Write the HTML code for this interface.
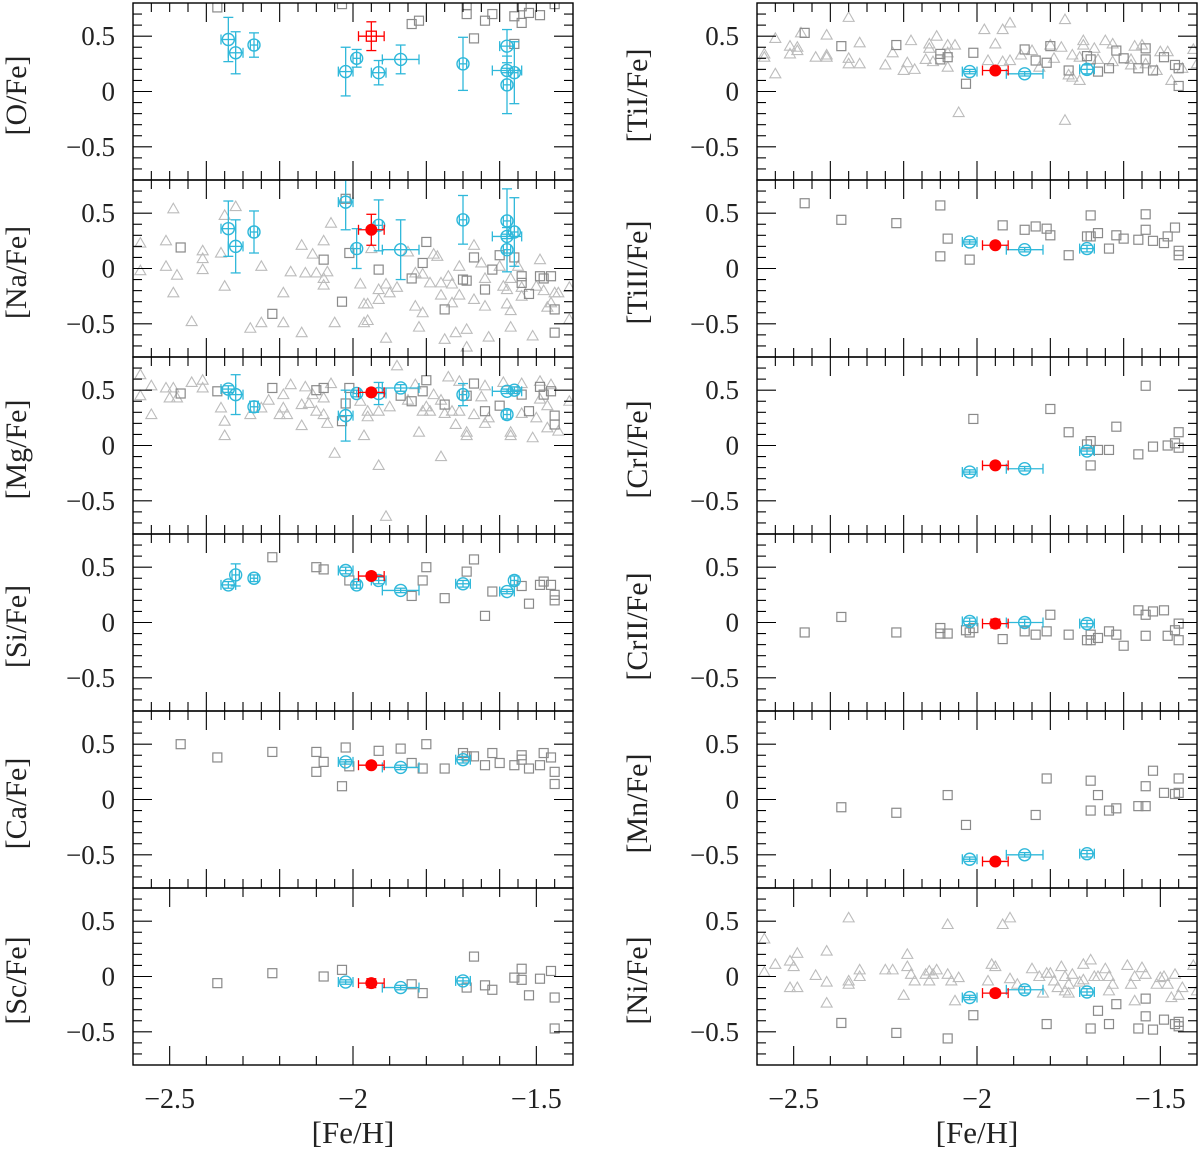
<!DOCTYPE html>
<html><head><meta charset="utf-8"><style>
html,body{margin:0;padding:0;background:#fff;}
svg{display:block;}
text{font-family:"Liberation Serif",serif;fill:#222;}
</style></head>
<body>
<svg id="chart" width="1200" height="1150" viewBox="0 0 1200 1150" xmlns="http://www.w3.org/2000/svg"></svg>
<script>
// ---- data: [Fe/H], [X/Fe] ----
const O_tri = [];
const O_sq = [[-2.37,0.76],[-2.03,0.79],[-1.84,0.61],[-1.82,0.64],[-1.69,0.78],[-1.69,0.70],[-1.64,0.64],[-1.62,0.70],[-1.67,0.48],[-1.56,0.43],[-1.54,0.77],[-1.54,0.62],[-1.52,0.71],[-1.49,0.69],[-1.56,0.68],[-1.45,0.79]];
const O_cyan = [[-2.34,0.47,0.02,0.20],[-2.32,0.35,0.02,0.19],[-2.27,0.42,0.01,0.11],[-2.02,0.18,0.02,0.22],[-1.99,0.30,0.01,0.08],[-1.93,0.17,0.02,0.11],[-1.87,0.29,0.05,0.13],[-1.70,0.25,0.01,0.24],[-1.58,0.41,0.02,0.15],[-1.58,0.19,0.04,0.02],[-1.56,0.17,0.01,0.28],[-1.58,0.06,0.01,0.26]];
const O_red = [-1.95,0.50,0.035,0.13];

const Na_tri = [[-2.49,0.54],[-2.58,0.23],[-2.51,0.25],[-2.51,0.02],[-2.58,-0.02],[-2.48,-0.06],[-2.49,-0.22],[-2.41,0.16],[-2.41,0.09],[-2.41,-0.01],[-2.44,-0.48],[-2.35,0.48],[-2.32,0.56],[-2.36,0.14],[-2.35,-0.16],[-2.25,0.02],[-2.28,-0.54],[-2.25,-0.49],[-2.19,-0.22],[-2.19,-0.49],[-2.14,-0.58],[-2.17,-0.03],[-2.14,0.21],[-2.13,-0.04],[-2.11,0.13],[-2.10,-0.04],[-2.08,0.25],[-2.08,-0.09],[-2.08,-0.15],[-2.07,-0.03],[-2.06,0.41],[-2.05,-0.49],[-1.98,-0.14],[-1.97,-0.32],[-1.96,-0.32],[-1.97,-0.49],[-1.96,-0.47],[-1.95,0.18],[-1.93,-0.19],[-1.93,-0.28],[-1.91,-0.14],[-1.90,-0.22],[-1.91,-0.63],[-1.88,-0.17],[-1.85,0.15],[-1.83,-0.04],[-1.83,-0.34],[-1.81,-0.40],[-1.81,-0.05],[-1.82,-0.53],[-1.79,-0.13],[-1.78,0.13],[-1.77,0.11],[-1.76,-0.13],[-1.76,-0.24],[-1.75,-0.64],[-1.74,-0.07],[-1.73,-0.14],[-1.73,-0.31],[-1.72,-0.58],[-1.71,0.02],[-1.71,-0.24],[-1.69,-0.55],[-1.69,-0.71],[-1.67,0.21],[-1.65,0.05],[-1.67,-0.28],[-1.64,-0.09],[-1.64,-0.34],[-1.63,-0.62],[-1.60,0.02],[-1.59,-0.16],[-1.58,-0.19],[-1.58,-0.32],[-1.57,-0.09],[-1.57,-0.53],[-1.57,-0.38],[-1.55,0.02],[-1.54,-0.17],[-1.54,-0.25],[-1.51,-0.61],[-1.49,0.08],[-1.50,-0.16],[-1.48,-0.20],[-1.47,-0.35],[-1.46,-0.31],[-1.45,-0.22],[-1.44,-0.22],[-1.41,-0.17],[-1.41,-0.46]];
const Na_sq = [[-2.47,0.19],[-2.22,-0.41],[-2.08,0.08],[-2.03,-0.30],[-2.01,0.14],[-1.93,-0.01],[-1.84,-0.09],[-1.81,0.05],[-1.80,0.24],[-1.75,-0.37],[-1.70,-0.10],[-1.69,-0.11],[-1.67,0.10],[-1.64,-0.19],[-1.62,-0.01],[-1.60,0.12],[-1.56,0.10],[-1.54,-0.07],[-1.54,-0.13],[-1.52,-0.23],[-1.49,-0.07],[-1.48,-0.09],[-1.46,-0.07],[-1.45,-0.37],[-1.45,-0.58],[-2.02,0.63]];
const Na_cyan = [[-2.02,0.60,0.02,0.25],[-2.34,0.36,0.02,0.25],[-2.32,0.20,0.02,0.24],[-2.27,0.33,0.01,0.19],[-1.99,0.18,0.01,0.18],[-1.93,0.39,0.01,0.23],[-1.87,0.17,0.05,0.27],[-1.70,0.44,0.01,0.22],[-1.58,0.43,0.01,0.29],[-1.58,0.29,0.04,0.02],[-1.56,0.33,0.01,0.31],[-1.58,0.17,0.01,0.20]];
const Na_red = [-1.95,0.35,0.035,0.14];

const Mg_tri = [[-2.58,0.64],[-2.55,0.54],[-2.58,0.45],[-2.55,0.28],[-2.51,0.52],[-2.50,0.43],[-2.49,0.52],[-2.48,0.43],[-2.44,0.57],[-2.41,0.59],[-2.41,0.52],[-2.36,0.34],[-2.35,0.22],[-2.35,0.09],[-2.25,0.34],[-2.28,0.28],[-2.23,0.41],[-2.20,0.28],[-2.18,0.28],[-2.19,0.46],[-2.19,0.34],[-2.17,0.55],[-2.14,0.37],[-2.14,0.18],[-2.13,0.53],[-2.12,0.38],[-2.11,0.46],[-2.10,0.31],[-2.08,0.43],[-2.08,0.28],[-2.07,0.20],[-2.06,0.56],[-2.05,-0.07],[-1.98,0.40],[-1.97,0.09],[-1.96,0.31],[-1.96,0.26],[-1.93,0.31],[-1.93,-0.18],[-1.90,0.35],[-1.91,-0.64],[-1.88,0.72],[-1.85,0.41],[-1.83,0.55],[-1.82,0.12],[-1.81,0.31],[-1.79,0.31],[-1.80,0.35],[-1.78,0.46],[-1.76,-0.10],[-1.76,0.41],[-1.75,0.29],[-1.74,0.62],[-1.73,0.31],[-1.72,0.19],[-1.71,0.58],[-1.71,0.31],[-1.69,0.12],[-1.69,0.09],[-1.67,0.28],[-1.65,0.44],[-1.64,0.54],[-1.63,0.25],[-1.64,0.20],[-1.59,0.57],[-1.57,0.12],[-1.57,0.09],[-1.54,0.56],[-1.54,0.29],[-1.51,0.07],[-1.50,0.25],[-1.49,0.58],[-1.49,0.42],[-1.47,0.36],[-1.47,0.16],[-1.46,0.55],[-1.44,0.13],[-1.41,0.40]];
const Mg_sq = [[-2.47,0.47],[-2.37,0.49],[-2.22,0.52],[-2.10,0.50],[-2.08,0.52],[-2.03,0.22],[-2.02,0.38],[-2.01,0.52],[-1.87,0.45],[-1.84,0.40],[-1.81,0.49],[-1.80,0.59],[-1.75,0.37],[-1.69,0.45],[-1.67,0.56],[-1.64,0.31],[-1.60,0.36],[-1.54,0.46],[-1.52,0.31],[-1.49,0.53],[-1.48,0.46],[-1.46,0.49],[-1.45,0.27],[-1.45,0.19]];
const Mg_cyan = [[-2.34,0.51,0.02,0.03],[-2.32,0.46,0.02,0.18],[-2.27,0.35,0.01,0.05],[-2.02,0.27,0.02,0.23],[-1.99,0.47,0.01,0.03],[-1.93,0.47,0.02,0.10],[-1.87,0.52,0.05,0.03],[-1.70,0.46,0.01,0.10],[-1.58,0.49,0.04,0.02],[-1.56,0.50,0.01,0.03],[-1.58,0.28,0.01,0.04]];
const Mg_red = [-1.95,0.48,0.035,0.03];

const Si_tri = [];
const Si_sq = [[-2.22,0.59],[-2.10,0.50],[-2.08,0.48],[-2.01,0.38],[-1.84,0.24],[-1.81,0.38],[-1.80,0.50],[-1.75,0.22],[-1.69,0.46],[-1.67,0.57],[-1.64,0.06],[-1.62,0.28],[-1.54,0.33],[-1.52,0.17],[-1.49,0.34],[-1.48,0.37],[-1.46,0.34],[-1.45,0.25],[-1.45,0.20]];
const Si_cyan = [[-2.34,0.34,0.02,0.03],[-2.32,0.43,0.01,0.10],[-2.27,0.40,0.01,0.03],[-2.02,0.47,0.02,0.03],[-1.99,0.34,0.01,0.03],[-1.93,0.38,0.02,0.03],[-1.87,0.29,0.05,0.02],[-1.70,0.35,0.02,0.03],[-1.56,0.38,0.01,0.04],[-1.58,0.28,0.02,0.02]];
const Si_red = [-1.95,0.42,0.035,0.03];

const Ca_tri = [];
const Ca_sq = [[-2.47,0.50],[-2.37,0.38],[-2.22,0.43],[-2.10,0.43],[-2.08,0.34],[-2.10,0.25],[-2.02,0.47],[-2.01,0.30],[-2.03,0.12],[-1.93,0.44],[-1.87,0.46],[-1.84,0.33],[-1.81,0.28],[-1.80,0.50],[-1.75,0.28],[-1.70,0.42],[-1.69,0.39],[-1.67,0.39],[-1.64,0.31],[-1.62,0.42],[-1.60,0.33],[-1.56,0.31],[-1.54,0.40],[-1.54,0.36],[-1.52,0.28],[-1.49,0.31],[-1.48,0.42],[-1.46,0.38],[-1.45,0.25],[-1.45,0.14]];
const Ca_cyan = [[-2.02,0.34,0.02,0.02],[-1.87,0.29,0.05,0.02],[-1.70,0.36,0.02,0.03]];
const Ca_red = [-1.95,0.31,0.035,0.02];

const Sc_tri = [];
const Sc_sq = [[-2.37,-0.06],[-2.22,0.03],[-2.08,0.00],[-2.03,0.06],[-1.84,-0.07],[-1.81,-0.15],[-1.69,-0.10],[-1.67,0.18],[-1.64,-0.08],[-1.62,-0.12],[-1.56,-0.01],[-1.54,0.07],[-1.54,-0.03],[-1.52,-0.17],[-1.49,-0.02],[-1.46,0.05],[-1.45,-0.19],[-1.45,-0.47]];
const Sc_cyan = [[-2.02,-0.05,0.02,0.02],[-1.87,-0.10,0.05,0.02],[-1.70,-0.04,0.02,0.03]];
const Sc_red = [-1.95,-0.06,0.035,0.04];

const TiI_tri = [[-2.58,0.34],[-2.58,0.31],[-2.55,0.48],[-2.55,0.16],[-2.51,0.41],[-2.51,0.34],[-2.49,0.40],[-2.49,0.37],[-2.48,0.53],[-2.44,0.31],[-2.41,0.51],[-2.41,0.33],[-2.41,0.31],[-2.35,0.67],[-2.35,0.30],[-2.35,0.25],[-2.32,0.44],[-2.32,0.25],[-2.25,0.24],[-2.23,0.35],[-2.20,0.19],[-2.19,0.26],[-2.17,0.20],[-2.18,0.46],[-2.14,0.29],[-2.13,0.43],[-2.13,0.39],[-2.11,0.50],[-2.12,0.27],[-2.08,0.42],[-2.08,0.35],[-2.08,0.22],[-2.06,0.42],[-2.05,-0.19],[-1.98,0.56],[-1.93,0.56],[-1.91,0.62],[-1.95,0.43],[-1.97,0.28],[-1.93,0.27],[-1.91,0.28],[-1.88,0.33],[-1.85,0.37],[-1.83,0.22],[-1.80,0.42],[-1.77,0.40],[-1.79,0.30],[-1.76,0.65],[-1.76,-0.26],[-1.74,0.33],[-1.72,0.31],[-1.75,0.15],[-1.72,0.10],[-1.74,0.13],[-1.71,0.46],[-1.71,0.42],[-1.68,0.39],[-1.67,0.29],[-1.65,0.46],[-1.63,0.43],[-1.63,0.27],[-1.58,0.29],[-1.57,0.41],[-1.58,0.24],[-1.55,0.42],[-1.54,0.25],[-1.51,0.19],[-1.50,0.36],[-1.48,0.36],[-1.47,0.10],[-1.44,0.21],[-1.41,0.38],[-1.40,0.25]];
const TiI_sq = [[-2.47,0.53],[-2.37,0.41],[-2.22,0.42],[-2.10,0.34],[-2.10,0.29],[-2.08,0.31],[-2.03,0.07],[-2.01,0.35],[-1.87,0.38],[-1.84,0.28],[-1.81,0.26],[-1.80,0.41],[-1.75,0.19],[-1.70,0.32],[-1.69,0.29],[-1.67,0.18],[-1.64,0.21],[-1.62,0.37],[-1.60,0.30],[-1.56,0.21],[-1.54,0.39],[-1.54,0.29],[-1.52,0.19],[-1.49,0.31],[-1.46,0.24],[-1.45,0.21],[-1.45,0.05]];
const TiI_cyan = [[-2.02,0.18,0.02,0.02],[-1.87,0.16,0.05,0.02],[-1.70,0.20,0.02,0.04]];
const TiI_red = [-1.95,0.19,0.035,0.02];

const TiII_tri = [];
const TiII_sq = [[-2.47,0.59],[-2.37,0.44],[-2.22,0.41],[-2.10,0.57],[-2.08,0.27],[-2.10,0.11],[-2.02,0.08],[-1.93,0.39],[-1.87,0.35],[-1.84,0.38],[-1.81,0.36],[-1.80,0.30],[-1.75,0.12],[-1.70,0.29],[-1.69,0.29],[-1.69,0.48],[-1.67,0.32],[-1.64,0.18],[-1.62,0.30],[-1.60,0.27],[-1.56,0.26],[-1.54,0.49],[-1.54,0.35],[-1.52,0.25],[-1.49,0.23],[-1.48,0.29],[-1.46,0.37],[-1.45,0.16],[-1.45,0.12]];
const TiII_cyan = [[-2.02,0.24,0.02,0.02],[-1.87,0.17,0.05,0.02],[-1.70,0.18,0.02,0.03]];
const TiII_red = [-1.95,0.21,0.035,0.02];

const CrI_tri = [];
const CrI_sq = [[-2.01,0.24],[-1.80,0.33],[-1.75,0.12],[-1.70,0.01],[-1.69,0.04],[-1.67,-0.04],[-1.64,-0.04],[-1.69,-0.18],[-1.62,0.17],[-1.56,-0.08],[-1.54,0.54],[-1.52,-0.01],[-1.48,0.00],[-1.46,0.02],[-1.45,0.12],[-1.45,-0.02]];
const CrI_cyan = [[-2.02,-0.24,0.02,0.02],[-1.87,-0.21,0.05,0.02],[-1.70,-0.05,0.02,0.03]];
const CrI_red = [-1.95,-0.18,0.035,0.02];

const CrII_tri = [];
const CrII_sq = [[-2.47,-0.09],[-2.37,0.05],[-2.22,-0.09],[-2.10,-0.05],[-2.10,-0.10],[-2.08,-0.10],[-2.03,-0.07],[-2.02,-0.09],[-2.01,-0.05],[-1.93,-0.15],[-1.87,-0.08],[-1.84,-0.11],[-1.81,-0.08],[-1.80,0.07],[-1.75,-0.11],[-1.70,-0.16],[-1.69,-0.16],[-1.69,-0.11],[-1.67,-0.14],[-1.64,-0.08],[-1.62,-0.11],[-1.60,-0.21],[-1.56,0.11],[-1.54,0.07],[-1.52,0.10],[-1.49,0.11],[-1.54,-0.12],[-1.48,-0.12],[-1.46,-0.07],[-1.45,-0.01],[-1.45,-0.16]];
const CrII_cyan = [[-2.02,0.01,0.02,0.03],[-1.87,0.00,0.05,0.03],[-1.70,-0.01,0.02,0.03]];
const CrII_red = [-1.95,-0.01,0.035,0.04];

const Mn_tri = [];
const Mn_sq = [[-2.37,-0.07],[-2.22,-0.12],[-2.08,0.04],[-2.03,-0.23],[-1.84,-0.14],[-1.81,0.19],[-1.69,0.17],[-1.67,0.04],[-1.69,-0.10],[-1.64,-0.10],[-1.62,-0.08],[-1.56,-0.06],[-1.54,-0.06],[-1.54,0.12],[-1.52,0.26],[-1.49,0.06],[-1.46,0.05],[-1.45,0.06],[-1.45,0.19]];
const Mn_cyan = [[-2.02,-0.54,0.02,0.02],[-1.87,-0.50,0.05,0.02],[-1.70,-0.49,0.02,0.03]];
const Mn_red = [-1.95,-0.56,0.035,0.02];

const Ni_tri = [[-2.58,0.34],[-2.58,0.04],[-2.55,0.11],[-2.51,0.14],[-2.50,0.09],[-2.49,0.21],[-2.51,-0.10],[-2.49,-0.10],[-2.44,0.01],[-2.41,0.23],[-2.41,-0.05],[-2.41,-0.24],[-2.35,0.53],[-2.35,-0.04],[-2.35,-0.07],[-2.32,0.06],[-2.32,0.00],[-2.25,0.06],[-2.23,0.06],[-2.19,0.20],[-2.19,0.09],[-2.18,0.02],[-2.17,-0.04],[-2.20,-0.17],[-2.14,0.02],[-2.13,0.05],[-2.13,-0.04],[-2.12,0.02],[-2.11,0.06],[-2.08,0.47],[-2.08,0.02],[-2.07,-0.04],[-2.05,-0.01],[-2.06,-0.22],[-1.97,-0.04],[-1.96,0.11],[-1.95,0.09],[-1.93,0.47],[-1.91,0.53],[-1.91,-0.02],[-1.89,-0.07],[-1.85,0.07],[-1.83,0.00],[-1.82,-0.15],[-1.81,0.03],[-1.80,0.03],[-1.79,-0.04],[-1.78,-0.10],[-1.77,0.09],[-1.76,0.00],[-1.75,-0.07],[-1.74,0.02],[-1.72,-0.05],[-1.71,0.11],[-1.69,0.15],[-1.68,0.00],[-1.67,0.00],[-1.65,0.07],[-1.64,0.00],[-1.64,-0.13],[-1.63,-0.07],[-1.76,-0.13],[-1.75,-0.15],[-1.71,-0.03],[-1.59,0.10],[-1.58,-0.07],[-1.57,0.00],[-1.55,0.08],[-1.54,0.02],[-1.57,-0.22],[-1.51,-0.07],[-1.50,-0.01],[-1.49,0.00],[-1.48,-0.07],[-1.47,-0.19],[-1.46,0.02],[-1.45,-0.17],[-1.44,-0.10],[-1.41,0.10],[-1.40,-0.13]];
const Ni_sq = [[-2.37,-0.42],[-2.22,-0.51],[-2.08,-0.56],[-2.01,-0.35],[-1.81,-0.43],[-1.69,-0.47],[-1.67,-0.31],[-1.64,-0.43],[-1.62,-0.25],[-1.56,-0.47],[-1.54,-0.20],[-1.54,-0.36],[-1.52,-0.48],[-1.49,-0.39],[-1.46,-0.43],[-1.45,-0.41],[-1.45,-0.45]];
const Ni_cyan = [[-2.02,-0.19,0.02,0.02],[-1.87,-0.12,0.05,0.03],[-1.70,-0.14,0.02,0.03]];
const Ni_red = [-1.95,-0.15,0.035,0.03];

const yTickLabels = ["0.5","0","\u22120.5"];
const yTickValues = [0.5,0,-0.5];
const xTickValues = [-2.5,-2,-1.5];
const xTickLabels = ["\u22122.5","\u22122","\u22121.5"];

const panels = [
  {col:0,row:0,title:"[O/Fe]",name:"o-fe",tri:O_tri,sq:O_sq,cyan:O_cyan,red:O_red,redSquare:true},
  {col:0,row:1,title:"[Na/Fe]",name:"na-fe",tri:Na_tri,sq:Na_sq,cyan:Na_cyan,red:Na_red},
  {col:0,row:2,title:"[Mg/Fe]",name:"mg-fe",tri:Mg_tri,sq:Mg_sq,cyan:Mg_cyan,red:Mg_red},
  {col:0,row:3,title:"[Si/Fe]",name:"si-fe",tri:Si_tri,sq:Si_sq,cyan:Si_cyan,red:Si_red},
  {col:0,row:4,title:"[Ca/Fe]",name:"ca-fe",tri:Ca_tri,sq:Ca_sq,cyan:Ca_cyan,red:Ca_red},
  {col:0,row:5,title:"[Sc/Fe]",name:"sc-fe",tri:Sc_tri,sq:Sc_sq,cyan:Sc_cyan,red:Sc_red},
  {col:1,row:0,title:"[TiI/Fe]",name:"ti1-fe",tri:TiI_tri,sq:TiI_sq,cyan:TiI_cyan,red:TiI_red},
  {col:1,row:1,title:"[TiII/Fe]",name:"ti2-fe",tri:TiII_tri,sq:TiII_sq,cyan:TiII_cyan,red:TiII_red},
  {col:1,row:2,title:"[CrI/Fe]",name:"cr1-fe",tri:CrI_tri,sq:CrI_sq,cyan:CrI_cyan,red:CrI_red},
  {col:1,row:3,title:"[CrII/Fe]",name:"cr2-fe",tri:CrII_tri,sq:CrII_sq,cyan:CrII_cyan,red:CrII_red},
  {col:1,row:4,title:"[Mn/Fe]",name:"mn-fe",tri:Mn_tri,sq:Mn_sq,cyan:Mn_cyan,red:Mn_red},
  {col:1,row:5,title:"[Ni/Fe]",name:"ni-fe",tri:Ni_tri,sq:Ni_sq,cyan:Ni_cyan,red:Ni_red}
];

const NS="http://www.w3.org/2000/svg";
const svg=document.getElementById('chart');
const W=440,H=177,TOP=3,XMIN=-2.6,XMAX=-1.4,YMIN=-0.8,YMAX=0.8;
const CYAN="#2fb8da",RED="#ff0000",SQ="#8a8a8a",TRI="#bcbcbc";
function mk(tag,attrs,parent){const e=document.createElementNS(NS,tag);for(const k in attrs)e.setAttribute(k,attrs[k]);(parent||svg).appendChild(e);return e;}

panels.forEach(p=>{
  const L=p.col===0?133:757, T=TOP+p.row*H;
  const sx=x=>L+(x-XMIN)/(XMAX-XMIN)*W;
  const sy=y=>T+(YMAX-y)/(YMAX-YMIN)*H;
  const g=mk('g',{});
  
  
  const clip='clip-'+p.name;
  const cp=mk('clipPath',{id:clip},g);mk('rect',{x:L,y:T,width:W,height:H},cp);
  const marks=mk('g',{'clip-path':'url(#'+clip+')'},g);
  // triangles
  p.tri.forEach(d=>{
    const cx=sx(d[0]),cy=sy(d[1]);
    const t=mk('polygon',{points:`${cx},${cy-5.5} ${cx+5.5},${cy+4} ${cx-5.5},${cy+4}`,fill:'none',stroke:TRI,'stroke-width':1.1},marks);
    
    
  });
  p.sq.forEach(d=>{
    const cx=sx(d[0]),cy=sy(d[1]);
    const s=mk('rect',{x:cx-4.5,y:cy-4.5,width:9,height:9,fill:'none',stroke:SQ,'stroke-width':1.2},marks);
    
    
  });
  function errbar(d,color,parent){
    const cx=sx(d[0]),cy=sy(d[1]);
    const x1=sx(d[0]-d[2]),x2=sx(d[0]+d[2]),y1=sy(d[1]+d[3]),y2=sy(d[1]-d[3]);
    mk('line',{x1:x1,y1:cy,x2:x2,y2:cy,stroke:color,'stroke-width':1.3},parent);
    mk('line',{x1:cx,y1:y1,x2:cx,y2:y2,stroke:color,'stroke-width':1.3},parent);
    mk('line',{x1:x1,y1:cy-5,x2:x1,y2:cy+5,stroke:color,'stroke-width':1.3},parent);
    mk('line',{x1:x2,y1:cy-5,x2:x2,y2:cy+5,stroke:color,'stroke-width':1.3},parent);
    mk('line',{x1:cx-5,y1:y1,x2:cx+5,y2:y1,stroke:color,'stroke-width':1.3},parent);
    mk('line',{x1:cx-5,y1:y2,x2:cx+5,y2:y2,stroke:color,'stroke-width':1.3},parent);
  }
  p.cyan.forEach(d=>{
    const cg=mk('g',{},marks);
    
    
    errbar(d,CYAN,cg);
    mk('circle',{cx:sx(d[0]),cy:sy(d[1]),r:6,fill:'none',stroke:CYAN,'stroke-width':1.4},cg);
  });
  const rg=mk('g',{},marks);
  
  
  const r=p.red;
  errbar(r,RED,rg);
  if(p.redSquare){mk('rect',{x:sx(r[0])-5,y:sy(r[1])-5,width:10,height:10,fill:'none',stroke:RED,'stroke-width':1.3},rg);}
  else{mk('circle',{cx:sx(r[0]),cy:sy(r[1]),r:6,fill:RED},rg);}
  // frame
  const fr=mk('rect',{x:L,y:T,width:W,height:H,fill:'none',stroke:'#000','stroke-width':1.4},g);
  
  
  // x ticks
  const bottom=p.row===5;
  const minorStep=bottom?0.1:0.05, majorStep=bottom?0.5:0.2;
  for(let k=Math.ceil(XMIN/minorStep-1e-6);k*minorStep<=XMAX+1e-6;k++){
    const v=k*minorStep;
    const isMaj=Math.abs(v/majorStep-Math.round(v/majorStep))<1e-6;
    const len=isMaj?19:9, x=sx(v);
    if(x<=L+1||x>=L+W-1)continue;
    mk('line',{x1:x,y1:T,x2:x,y2:T+len,stroke:'#000','stroke-width':1.1},g);
    mk('line',{x1:x,y1:T+H,x2:x,y2:T+H-len,stroke:'#000','stroke-width':1.1},g);
  }
  for(let k=-8;k<=8;k++){
    const v=k*0.1;const isMaj=(k%5===0);const len=isMaj?19:9;const y=sy(v);
    if(y<=T+1||y>=T+H-1)continue;
    mk('line',{x1:L,y1:y,x2:L+len,y2:y,stroke:'#000','stroke-width':1.1},g);
    mk('line',{x1:L+W,y1:y,x2:L+W-len,y2:y,stroke:'#000','stroke-width':1.1},g);
  }
  yTickValues.forEach((v,i)=>{
    const t=mk('text',{x:L-18,y:sy(v)+9,'text-anchor':'end','font-size':27},g);
    t.textContent=yTickLabels[i];
    
    
  });
  const tx=p.col===0?16:637, ty=T+H/2+4;
  const tt=mk('text',{x:0,y:0,'text-anchor':'middle','font-size':30,transform:`translate(${tx+10},${ty}) rotate(-90)`},g);
  tt.textContent=p.title;
  
  
  if(bottom){
    xTickValues.forEach((v,i)=>{
      const t=mk('text',{x:sx(v),y:1108,'text-anchor':'middle','font-size':28},g);
      t.textContent=xTickLabels[i];
      
      
    });
    const xt=mk('text',{x:L+W/2,y:1143,'text-anchor':'middle','font-size':31},g);
    xt.textContent="[Fe/H]";
    
    
  }
});
</script>
</body></html>
